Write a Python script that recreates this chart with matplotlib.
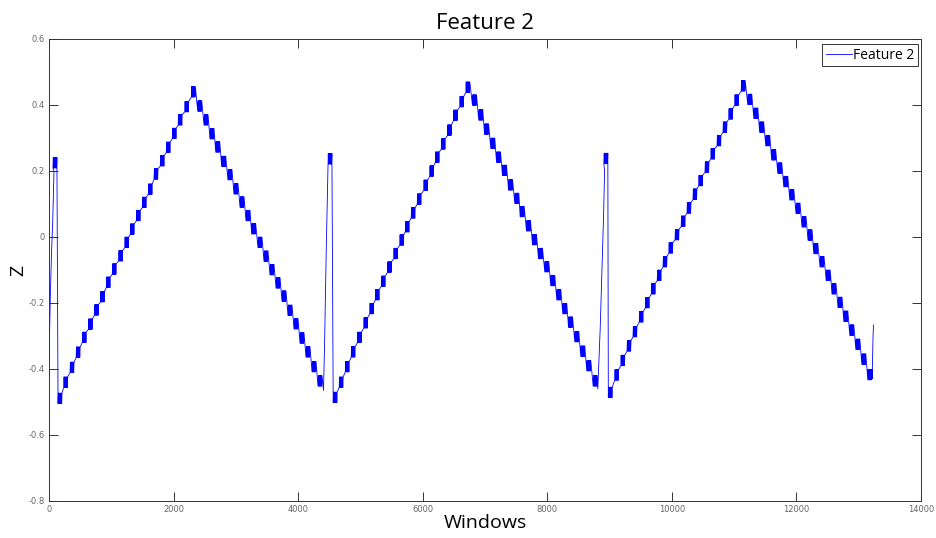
import numpy as np
import matplotlib
matplotlib.use('Agg')
import matplotlib.pyplot as plt

# ---- данные ----
# начало записи: быстрый подъём
start_x = [0, 20, 40, 60, 80]
start_z = [-0.38, -0.19, -0.05, 0.05, 0.20]

# верхушки трёх "всплесков" (x, z)
spike_x = [95, 4510, 8940]
spike_z = [0.225, 0.237, 0.238]

# переходы перед всплесками 2 и 3
jump1_x = [4407, 4425, 4450, 4475]
jump1_z = [-0.465, -0.32, -0.05, 0.18]
jump2_x = [8811, 8849, 8903, 8920]
jump2_z = [-0.46, -0.28, 0.06, 0.20]

# ступени: подъём 1
rise1_x = [177, 268, 370, 468, 567, 665, 762, 858, 952, 1048, 1150, 1248,
           1337, 1434, 1530, 1626, 1718, 1819, 1915, 2012, 2106, 2211, 2317]
rise1_z = [-0.489, -0.440, -0.395, -0.349, -0.304, -0.264, -0.221, -0.181,
           -0.137, -0.097, -0.057, -0.016, 0.024, 0.065, 0.105, 0.145, 0.191,
           0.231, 0.272, 0.314, 0.355, 0.395, 0.440]
# спуск 1
fall1_x = [2420, 2521, 2617, 2709, 2805, 2905, 3002, 3099, 3195, 3286, 3387,
           3484, 3580, 3677, 3773, 3869, 3966, 4062, 4158, 4255, 4351]
fall1_z = [0.397, 0.355, 0.313, 0.273, 0.229, 0.189, 0.146, 0.106, 0.065,
           0.025, -0.016, -0.058, -0.099, -0.139, -0.179, -0.222, -0.263,
           -0.306, -0.348, -0.393, -0.436]
# подъём 2
rise2_x = [4595, 4691, 4789, 4884, 4985, 5085, 5181, 5271, 5367, 5467, 5566,
           5663, 5752, 5847, 5944, 6048, 6144, 6234, 6330, 6430, 6526, 6626, 6724]
rise2_z = [-0.486, -0.440, -0.393, -0.348, -0.304, -0.260, -0.217, -0.175,
           -0.134, -0.091, -0.050, -0.009, 0.031, 0.073, 0.115, 0.157, 0.200,
           0.242, 0.282, 0.324, 0.369, 0.410, 0.454]
# спуск 2
fall2_x = [6831, 6932, 7025, 7125, 7217, 7313, 7410, 7511, 7597, 7698, 7795,
           7891, 7992, 8088, 8185, 8281, 8373, 8474, 8570, 8666, 8769]
fall2_z = [0.415, 0.370, 0.327, 0.284, 0.242, 0.202, 0.158, 0.117, 0.077,
           0.034, -0.008, -0.050, -0.090, -0.132, -0.175, -0.217, -0.258,
           -0.302, -0.346, -0.390, -0.436]
# подъём 3
rise3_x = [9012, 9114, 9212, 9312, 9408, 9508, 9606, 9702, 9797, 9890, 9983,
           10083, 10182, 10275, 10371, 10463, 10564, 10657, 10757, 10853,
           10945, 11041, 11145]
rise3_z = [-0.471, -0.418, -0.374, -0.330, -0.287, -0.242, -0.199, -0.157,
           -0.116, -0.075, -0.033, 0.007, 0.048, 0.088, 0.130, 0.171, 0.212,
           0.252, 0.292, 0.333, 0.373, 0.415, 0.458]
# спуск 3
fall3_x = [11251, 11348, 11442, 11540, 11635, 11733, 11829, 11926, 12025,
           12122, 12218, 12311, 12411, 12510, 12603, 12700, 12793, 12889,
           12986, 13082, 13178]
fall3_z = [0.417, 0.375, 0.333, 0.292, 0.249, 0.209, 0.168, 0.128, 0.087,
           0.046, 0.006, -0.035, -0.075, -0.116, -0.157, -0.198, -0.240,
           -0.282, -0.325, -0.370, -0.417]
# хвост
end_x = [13215, 13230, 13237]
end_z = [-0.43, -0.30, -0.267]

xticks = [0, 2000, 4000, 6000, 8000, 10000, 12000, 14000]
yticks = [-0.8, -0.6, -0.4, -0.2, 0, 0.2, 0.4, 0.6]
ytick_labels = ['-0.8', '-0.6', '-0.4', '-0.2', '0', '0.2', '0.4', '0.6']

# ---- сборка линии ----
block_w = 64       # ширина "ступени" по x
block_h = 0.016    # полуразмах дрожания
strokes = 6

px, pz = [], []


def add_points(xs, zs):
    px.extend(xs)
    pz.extend(zs)


def add_blocks(xs, zs):
    for x, z in zip(xs, zs):
        bx = np.linspace(x - block_w / 2, x + block_w / 2, strokes * 2)
        bz = [z - block_h if k % 2 == 0 else z + block_h for k in range(strokes * 2)]
        px.extend(bx)
        pz.extend(bz)


add_points(start_x, start_z)
add_blocks(spike_x[:1], spike_z[:1])
add_blocks(rise1_x, rise1_z)
add_blocks(fall1_x, fall1_z)
add_points(jump1_x, jump1_z)
add_blocks(spike_x[1:2], spike_z[1:2])
add_blocks(rise2_x, rise2_z)
add_blocks(fall2_x, fall2_z)
add_points(jump2_x, jump2_z)
add_blocks(spike_x[2:], spike_z[2:])
add_blocks(rise3_x, rise3_z)
add_blocks(fall3_x, fall3_z)
add_points(end_x, end_z)

# ---- рисунок ----
fig = plt.figure(figsize=(9.37, 5.38), dpi=100)
ax = fig.add_axes([49 / 937, 37 / 538, 872 / 937, 462 / 538])

ax.plot(px, pz, color='#0000ff', linewidth=0.6, label='Feature 2')

ax.set_xlim(0, 14000)
ax.set_ylim(-0.8, 0.6)
ax.set_xticks(xticks)
ax.set_xticklabels([str(t) for t in xticks])
ax.set_yticks(yticks)
ax.set_yticklabels(ytick_labels)

ax.tick_params(direction='in', length=6.3, width=0.7, color='#333333',
               labelsize=6, labelcolor='#666666', top=True, right=True, pad=3)
for s in ax.spines.values():
    s.set_color('#333333')
    s.set_linewidth(0.7)

ax.set_title('Feature 2', fontsize=16, family='Open Sans', pad=7)
ax.set_xlabel('Windows', fontsize=14, family='Open Sans', labelpad=0)
ax.set_ylabel('Z', fontsize=14, family='Open Sans')
ax.yaxis.set_label_coords(-0.025, 0.5)

leg = ax.legend(loc='upper right', bbox_to_anchor=(0.9966, 0.989),
                borderaxespad=0, fancybox=False, framealpha=1,
                prop={'family': 'Open Sans', 'size': 10},
                handlelength=1.9, handletextpad=0.1, borderpad=0.25)
leg.get_frame().set_edgecolor('#333333')
leg.get_frame().set_linewidth(0.7)

fig.savefig('out.png', dpi=100)
